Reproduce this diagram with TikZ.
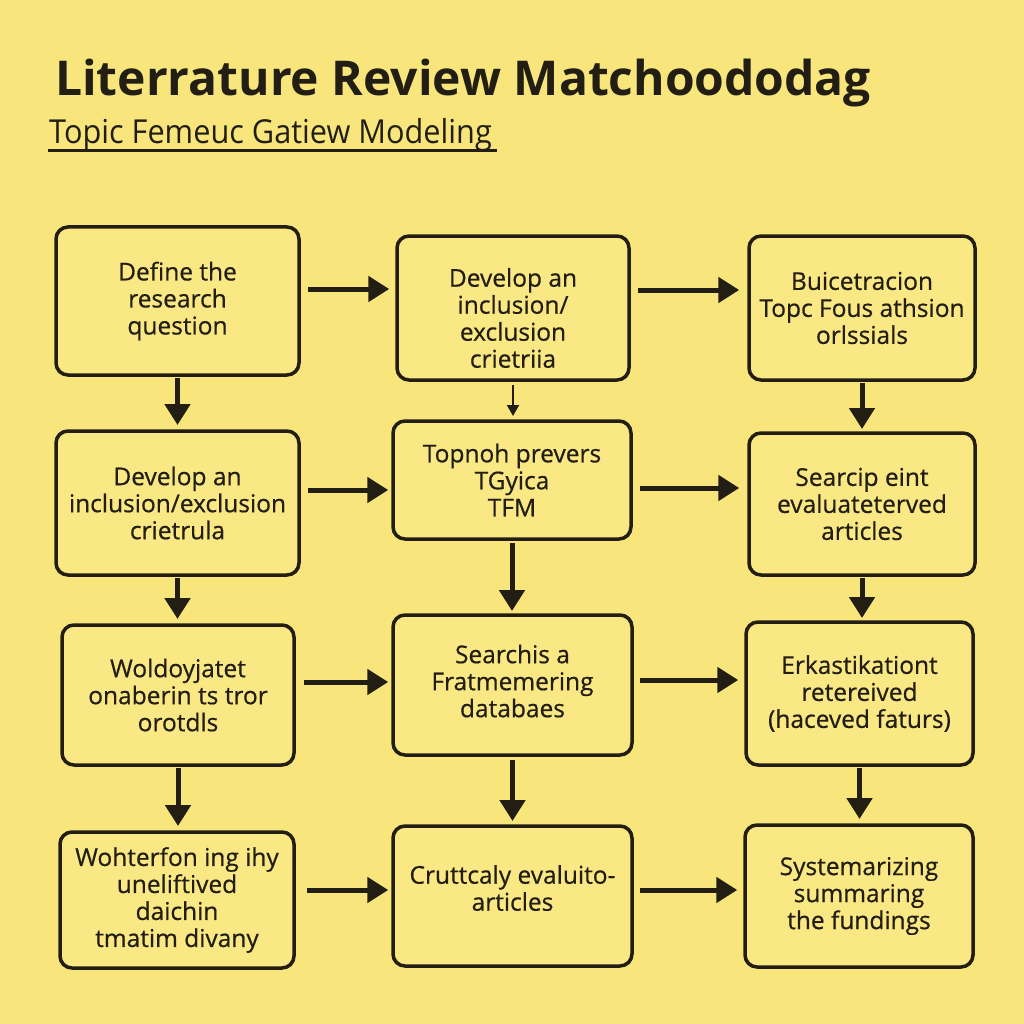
\documentclass[tikz,border=0pt]{standalone}
\usepackage{fontspec}
\setmainfont{Open Sans}
\newfontfamily\subfont[FakeStretch=0.93]{Open Sans}
\newfontfamily\boxfont[FakeBold=0.6]{Open Sans}
\usetikzlibrary{arrows.meta,calc}
\definecolor{bg}{HTML}{F8E67C}
\definecolor{boxfill}{HTML}{F9E883}
\definecolor{ink}{HTML}{221E14}
\tikzset{
  boxtext/.style={text=ink, align=center, font=\boxfont\fontsize{24.5}{27}\selectfont, inner sep=0pt},
  stepbox/.style={boxtext, draw=ink, fill=boxfill, line width=3.5pt, rounded corners=12pt},
  flow/.style={draw=ink, line width=5pt, -{Triangle[length=21pt,width=25pt]}},
  thinflow/.style={draw=ink, line width=2pt, -{Triangle[length=11pt,width=12pt]}}
}
\begin{document}
\begin{tikzpicture}[x=1pt,y=-1pt]
\fill[bg] (0,0) rectangle (1024,1024);
\useasboundingbox (0,0) rectangle (1024,1024);

\node[anchor=base west, text=ink, font=\fontsize{48}{55}\selectfont\bfseries, inner sep=0pt] (title) at (55,96) {Literrature Review Matchoododag};
\node[anchor=base west, text=ink, font=\subfont\fontsize{33}{36}\selectfont, inner sep=0pt] (sub) at (49,144) {Topic Femeuc Gatiew Modeling};
\draw[ink, line width=3pt] (48,150.5) -- (497,150.5);

% row 1
\node[stepbox, minimum width=243pt, minimum height=148pt] (A1) at (177.5,301) {Define the\\research\\question};
\node[stepbox, minimum width=232pt, minimum height=144pt] (B1) at (513,308) {};
\node[boxtext] (B1t) at (513,318) {Develop an\\inclusion/\\exclusion\\crietriia};
\node[stepbox, minimum width=226pt, minimum height=144pt] (C1) at (862,308) {Buicetracion\\Topc Fous athsion\\orlssials};
% row 2
\node[stepbox, minimum width=243pt, minimum height=144pt] (A2) at (177.5,503) {Develop an\\inclusion/exclusion\\crietrula};
\node[stepbox, minimum width=238pt, minimum height=118pt] (B2) at (512,480) {Topnoh prevers\\TGyica\\TFM};
\node[stepbox, minimum width=226pt, minimum height=142pt] (C2) at (862,504) {Searcip eint\\evaluateterved\\articles};
% row 3
\node[stepbox, minimum width=232pt, minimum height=140pt] (A3) at (178,695) {Woldoyjatet\\onaberin ts tror\\orotdls};
\node[stepbox, minimum width=239pt, minimum height=140pt] (B3) at (512.5,685) {};
\node[boxtext] (B3t) at (512.5,681) {Searchis a\\Fratmemering\\databaes};
\node[stepbox, minimum width=227pt, minimum height=143pt] (C3) at (859.5,693.5) {Erkastikationt\\retereived\\(haceved faturs)};
% row 4
\node[stepbox, minimum width=234pt, minimum height=136pt] (A4) at (177,900) {Wohterfon ing ihy\\uneliftived\\daichin\\tmatim divany};
\node[stepbox, minimum width=239pt, minimum height=140pt] (B4) at (512.5,896) {};
\node[boxtext] (B4t) at (512.5,888) {Cruttcaly evaluito-\\articles};
\node[stepbox, minimum width=228pt, minimum height=142pt] (C4) at (859,896) {Systemarizing\\summaring\\the fundings};

% horizontal arrows
\draw[flow] ([xshift=7pt]A1.east |- 0,289) -- ([xshift=-6pt]B1.west |- 0,289);
\draw[flow] ([xshift=7pt]B1.east |- 0,290) -- ([xshift=-8pt]C1.west |- 0,290);
\draw[flow] ([xshift=7pt]A2.east |- 0,490) -- ([xshift=-3pt]B2.west |- 0,490);
\draw[flow] ([xshift=7pt]B2.east |- 0,488) -- ([xshift=-8pt]C2.west |- 0,488);
\draw[flow] ([xshift=8pt]A3.east |- 0,682) -- ([xshift=-3pt]B3.west |- 0,682);
\draw[flow] ([xshift=6pt]B3.east |- 0,680) -- ([xshift=-6pt]C3.west |- 0,680);
\draw[flow] ([xshift=11pt]A4.east |- 0,890) -- ([xshift=-3pt]B4.west |- 0,890);
\draw[flow] ([xshift=6pt]B4.east |- 0,890) -- ([xshift=-6pt]C4.west |- 0,890);

% vertical arrows
\draw[flow] (A1.south |- 0,378) -- (A1.south |- 0,425);
\draw[flow] (A2.south |- 0,578) -- (A2.south |- 0,619);
\draw[flow] (A3.south |- 0,768) -- (A3.south |- 0,826);
\draw[thinflow] (B1.south |- 0,385) -- (B1.south |- 0,416);
\draw[flow] (B2.south |- 0,543) -- (B2.south |- 0,611);
\draw[flow] (B3.south |- 0,760) -- (B3.south |- 0,821);
\draw[flow] (C1.south |- 0,383) -- (C1.south |- 0,429);
\draw[flow] (C2.south |- 0,578) -- (C2.south |- 0,618);
\draw[flow] (C3.south |- 0,768) -- (C3.south |- 0,819);
\end{tikzpicture}
\end{document}
